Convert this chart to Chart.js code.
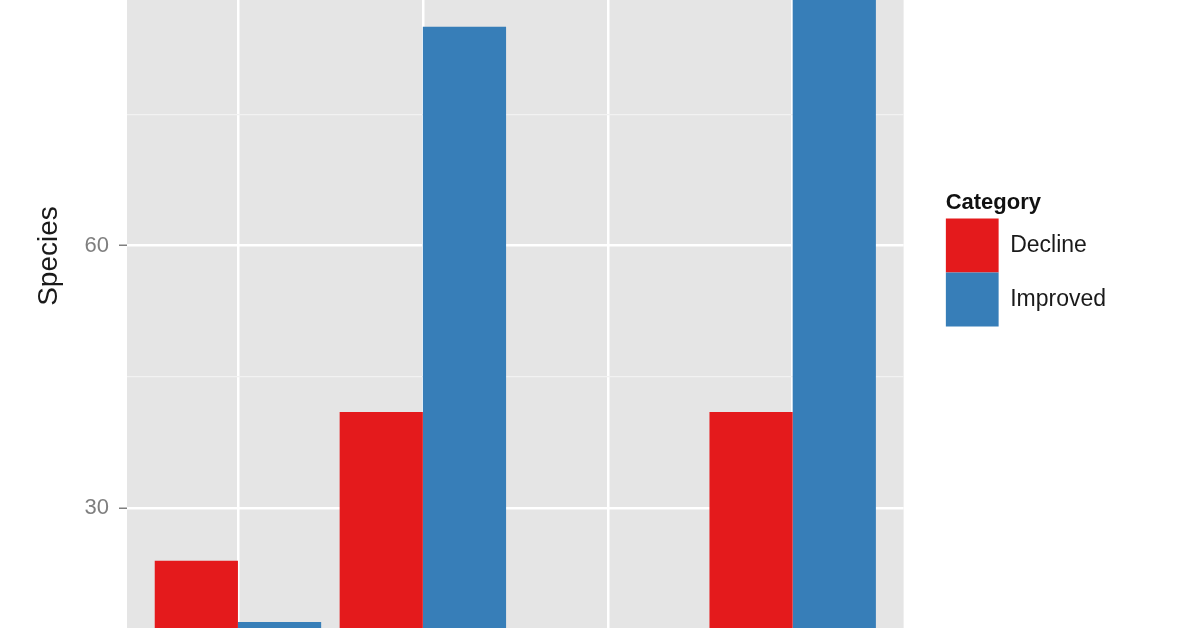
<!DOCTYPE html>
<html>
<head>
<meta charset="utf-8">
<script src="https://cdn.jsdelivr.net/npm/chart.js@4.4.1/dist/chart.umd.min.js"></script>
<style>
  html, body { margin: 0; padding: 0; background: #ffffff; overflow: hidden; width: 1196px; height: 628px; }
  #wrap { position: absolute; left: 0; top: -10px; width: 1196px; height: 648px; }
</style>
</head>
<body>
<div id="wrap"><canvas id="c"></canvas></div>
<script>
// ---- data ----
const categories = ['Group 1', 'Group 2', 'Group 3', 'Group 4'];
const seriesNames = ['Decline', 'Improved'];
const declineValues = [24, 41, 5, 41];
const improvedValues = [17, 85, 9, 92];
const yTickValues = [15, 30, 45, 60, 75];
const yTickLabels = [30, 60];
const yAxisTitle = 'Species';
const legendTitle = 'Category';

const FONT = '"Liberation Sans", Arial, Helvetica, sans-serif';
const RED = '#E41A1C';
const BLUE = '#377EB8';

const panelBg = {
  id: 'panelBg',
  beforeDraw(chart) {
    const { ctx, chartArea: a } = chart;
    ctx.save();
    ctx.fillStyle = '#E5E5E5';
    ctx.fillRect(a.left, a.top, a.right - a.left, a.bottom - a.top);
    ctx.restore();
  }
};

const yTitlePlugin = {
  id: 'yTitlePlugin',
  afterDraw(chart) {
    const ctx = chart.ctx;
    ctx.save();
    ctx.translate(57, chart.chartArea.top + 256);
    ctx.rotate(-Math.PI / 2);
    ctx.font = '28px ' + FONT;
    ctx.fillStyle = '#1a1a1a';
    ctx.textAlign = 'center';
    ctx.textBaseline = 'alphabetic';
    ctx.fillText(yAxisTitle, 0, 0);
    ctx.restore();
  }
};

const isMajor = v => yTickLabels.includes(v);

new Chart(document.getElementById('c'), {
  type: 'bar',
  data: {
    labels: categories,
    datasets: [
      { label: seriesNames[0], data: declineValues, backgroundColor: RED, borderWidth: 0 },
      { label: seriesNames[1], data: improvedValues, backgroundColor: BLUE, borderWidth: 0 }
    ]
  },
  options: {
    responsive: true,
    maintainAspectRatio: false,
    animation: false,
    devicePixelRatio: 1,
    layout: { padding: { left: 0, right: 80, top: 0, bottom: 0 } },
    datasets: { bar: { categoryPercentage: 0.9, barPercentage: 1.0 } },
    scales: {
      x: {
        type: 'category',
        offset: false,
        grid: { offset: false, color: '#ffffff', lineWidth: 2.5, drawTicks: false },
        border: { display: false },
        ticks: { display: false },
        afterUpdate(s) { s._startValue = -0.6; s._valueRange = categories.length - 1 + 1.2; }
      },
      y: {
        type: 'linear',
        position: 'left',
        min: 16.325,
        max: 88.07,
        afterBuildTicks(s) { s.ticks = yTickValues.map(v => ({ value: v })); },
        afterFit(s) { s.width = 127; },
        border: { display: false },
        grid: {
          color: c => isMajor(c.tick && c.tick.value) ? '#ffffff' : '#F2F2F2',
          lineWidth: c => isMajor(c.tick && c.tick.value) ? 2.5 : 1.2,
          tickColor: c => isMajor(c.tick && c.tick.value) ? '#7F7F7F' : 'rgba(0,0,0,0)',
          tickWidth: 1.5,
          tickLength: 8,
          drawTicks: true
        },
        ticks: {
          padding: 10,
          color: '#7F7F7F',
          font: c => ({ family: FONT, size: isMajor(c.tick && c.tick.value) ? 22 : 0 }),
          callback: v => isMajor(v) ? String(v) : ''
        }
      },
      spacer: {
        type: 'linear',
        position: 'right',
        display: true,
        border: { display: false },
        grid: { display: false, drawTicks: true, tickLength: 42 },
        ticks: { display: false }
      }
    },
    plugins: {
      tooltip: { enabled: false },
      legend: {
        position: 'right',
        align: 'start',
        title: {
          display: true,
          text: legendTitle,
          position: 'start',
          color: '#111111',
          font: { family: FONT, size: 22, weight: 'bold' },
          padding: { top: 202, bottom: 0 }
        },
        labels: {
          boxWidth: 53,
          boxHeight: 54,
          padding: 0,
          color: '#1a1a1a',
          font: { family: FONT, size: 23 }
        }
      }
    }
  },
  plugins: [panelBg, yTitlePlugin]
});
</script>
</body>
</html>
